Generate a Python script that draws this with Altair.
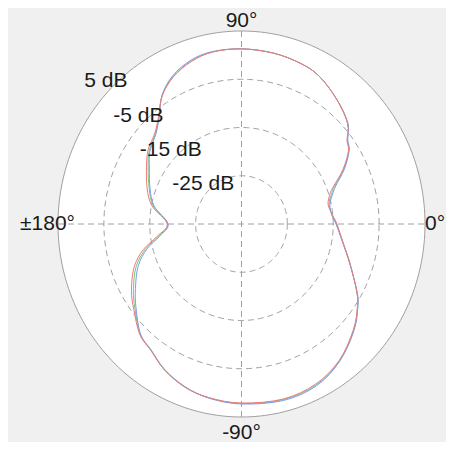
import altair as alt
import numpy as np
import pandas as pd

# ---- data (angle in degrees, level in dB) ----
angles = [0, 5, 12, 18, 21, 27, 33, 37, 42, 51, 61, 69, 79, 90, 100, 108, 116, 123,
          129, 135, 143, 150, 160, 169, 180, 188, 194, 201, 210, 217, 226, 233, 241,
          250, 259, 270, 284, 296, 307, 318, 326, 331, 341, 350]
red_db = [-14.2, -15.0, -15.7, -14.7, -13.6, -10.2, -7.2, -6.2, -3.9, -1.9, 0.0, 0.7,
          1.1, 1.3, 1.2, 0.4, -1.1, -3.3, -6.3, -8.3, -9.5, -11.1, -13.1, -15.1, -18.8,
          -16.4, -12.9, -9.9, -7.3, -5.6, -3.1, -2.2, -0.4, 1.0, 1.7, 2.1, 2.4, 1.9,
          0.4, -2.2, -4.5, -6.3, -10.0, -12.5]
blue_db = [-14.4, -15.2, -15.3, -14.0, -13.0, -9.8, -7.0, -6.0, -3.8, -1.9, 0.0, 0.7,
           1.1, 1.3, 1.3, 0.7, -0.8, -3.2, -6.5, -8.6, -10.0, -11.8, -13.8, -15.6, -19.0,
           -17.0, -13.8, -10.9, -8.3, -6.2, -3.3, -2.3, -0.5, 0.9, 1.8, 2.3, 2.7, 2.3,
           0.6, -2.0, -4.4, -6.2, -10.1, -12.6]
green_db = [-14.3, -15.1, -15.5, -14.3, -13.3, -10.0, -7.1, -6.1, -3.8, -1.9, 0.0, 0.7,
            1.1, 1.3, 1.2, 0.5, -1.0, -3.2, -6.4, -8.5, -9.8, -11.5, -13.6, -15.4, -18.9,
            -16.7, -13.4, -10.4, -7.8, -5.9, -3.2, -2.2, -0.4, 1.0, 1.7, 2.2, 2.5, 2.1,
            0.5, -2.1, -4.5, -6.3, -10.0, -12.5]
series_names = ["green", "blue", "red"]
series_colors = ["#7cc47c", "#7b9ce6", "#ee7b7b"]

ring_db = [-25, -15, -5]
outer_db = 5
centre_db = -35
ring_labels = ["5 dB", "-5 dB", "-15 dB", "-25 dB"]
ring_label_db = [5, -5, -15, -25]
angle_labels = ["0°", "90°", "±180°", "-90°"]
angle_label_deg = [0, 90, 180, 270]

FONT = "Liberation Sans"
GRID = "#a0a0a0"
R = outer_db - centre_db  # 40

# ---- build tables ----
def polar(db_list, deg_list):
    r = np.array(db_list) - centre_db
    t = np.radians(np.array(deg_list))
    return r * np.cos(t), r * np.sin(t)

curve_rows = []
for name, vals in zip(series_names, [green_db, blue_db, red_db]):
    xs_, ys_ = polar(vals, angles)
    for i, (xv, yv) in enumerate(zip(xs_, ys_)):
        curve_rows.append({"series": name, "x": xv, "y": yv, "i": i})
curves = pd.DataFrame(curve_rows)

t = np.linspace(0, 2 * np.pi, 241)
ring_rows = []
for db in ring_db + [outer_db]:
    r = db - centre_db
    for i, tv in enumerate(t):
        ring_rows.append({"ring": str(db), "x": r * np.cos(tv), "y": r * np.sin(tv), "i": i,
                          "outer": db == outer_db})
rings = pd.DataFrame(ring_rows)

th = np.linspace(np.pi, 0, 181)
disk = pd.DataFrame({"x": R * np.cos(th), "y": R * np.sin(th), "y2": -R * np.sin(th)})

rl_r = np.array(ring_label_db) - centre_db + 1.8
rl = pd.DataFrame({"text": ring_labels,
                   "x": rl_r * np.cos(np.radians(135)),
                   "y": rl_r * np.sin(np.radians(135))})

al_r = [40.0, 42.0, 36.3, 43.4]
al_anchor = ["left", "center", "right", "center"]
al = pd.DataFrame({"text": angle_labels,
                   "x": [r * np.cos(np.radians(a)) for r, a in zip(al_r, angle_label_deg)],
                   "y": [r * np.sin(np.radians(a)) for r, a in zip(al_r, angle_label_deg)],
                   "anchor": al_anchor})

xs = alt.Scale(domain=[-R, R], nice=False, zero=False)
ys = alt.Scale(domain=[-R, R], nice=False, zero=False)


def X(f="x"):
    return alt.X(f, type="quantitative", scale=xs, axis=None)


def Y(f="y"):
    return alt.Y(f, type="quantitative", scale=ys, axis=None)


disk_layer = alt.Chart(disk).mark_area(color="white", orient="vertical").encode(
    x=X(), y=Y(), y2="y2")

dash_rings = alt.Chart(rings[~rings["outer"]]).mark_line(
    color=GRID, strokeWidth=1, strokeDash=[6, 4]).encode(
    x=X(), y=Y(), detail="ring:N", order="i:Q")
outer_ring = alt.Chart(rings[rings["outer"]]).mark_line(
    color=GRID, strokeWidth=1).encode(x=X(), y=Y(), order="i:Q")

hline = alt.Chart(pd.DataFrame({"x": [-R], "x2": [R], "y": [0]})).mark_rule(
    color=GRID, strokeWidth=1, strokeDash=[6, 4]).encode(x=X(), x2="x2", y=Y())
vline = alt.Chart(pd.DataFrame({"x": [0], "y": [-R], "y2": [R]})).mark_rule(
    color=GRID, strokeWidth=1, strokeDash=[6, 4]).encode(x=X(), y=Y(), y2="y2")

curve_layers = []
for name, col in zip(series_names, series_colors):
    curve_layers.append(
        alt.Chart(curves[curves["series"] == name]).mark_line(
            color=col, strokeWidth=1, interpolate="cardinal-closed").encode(
            x=X(), y=Y(), order="i:Q"))

ring_text = alt.Chart(rl).mark_text(font=FONT, fontSize=21, color="#1a1a1a",
                                    align="center", baseline="middle").encode(
    x=X(), y=Y(), text="text:N")

angle_text = []
for anchor in ["left", "center", "right"]:
    sub = al[al["anchor"] == anchor]
    angle_text.append(alt.Chart(sub).mark_text(font=FONT, fontSize=21, color="#1a1a1a",
                                               align=anchor, baseline="middle").encode(
        x=X(), y=Y(), text="text:N"))

chart = alt.layer(disk_layer, dash_rings, hline, vline, outer_ring, *curve_layers,
                  ring_text, *angle_text).properties(
    width=367, height=386,
    autosize=alt.AutoSizeParams(type="none"),
    padding={"left": 50, "top": 23, "right": 21, "bottom": 25},
    background="#f0f0f0",
).configure_view(stroke=None, fill=None)

chart.save("out.html", embed_options={"renderer": "svg", "actions": False})
